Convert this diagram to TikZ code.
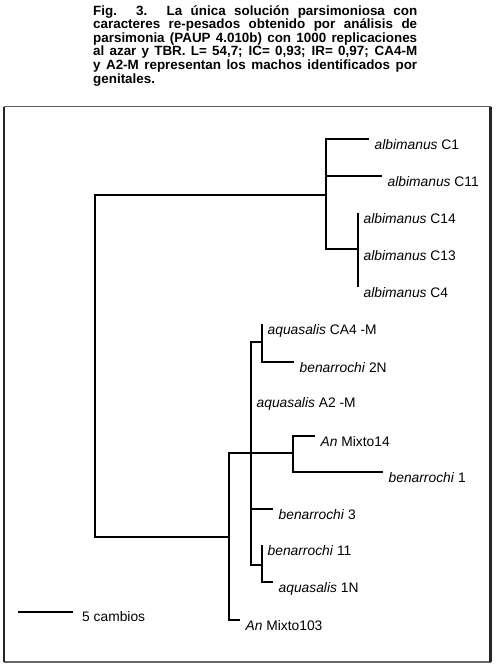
\documentclass[tikz,border=0pt]{standalone}
\usepackage{fontspec}
\setmainfont{Liberation Sans}
\begin{document}
\begin{tikzpicture}[x=1pt,y=-1pt,
  branch/.style={line width=2pt, black, line join=miter},
  leaf/.style={anchor=base west, inner sep=0pt, xshift=5.5pt, yshift=-10pt,
    font=\fontsize{13.8}{16}\selectfont},
  frameside/.style={line width=2.4pt, black!85},
  frametop/.style={line width=1.2pt, black!65},
  framebottom/.style={line width=1.8pt, black!60}]
\useasboundingbox (0,0) rectangle (496,666);

% caption
\node[anchor=north west, inner sep=0pt, text width=324pt, align=justify,
  font=\bfseries\fontsize{13.4}{13.6}\selectfont] (cap) at (93,5)
  {\tolerance=10000\hyphenpenalty=10000
   Fig. 3. La única solución parsimoniosa con\linebreak
   caracteres re-pesados obtenido por análisis de\linebreak
   parsimonia (PAUP 4.010b) con 1000 replicaciones\linebreak
   al azar y TBR. L= 54,7; IC= 0,93; IR= 0,97; CA4-M\linebreak
   y A2-M representan los machos identificados por\linebreak
   genitales.};

% frame
\coordinate (tl) at (3.8,106.6);
\coordinate (tr) at (490.6,106.6);
\coordinate (bl) at (3.8,662);
\coordinate (br) at (490.6,662);
\draw[frametop] (tl) -- (tr);
\draw[framebottom] (bl) -- (br);
\draw[frameside] (tl) -- (bl);
\draw[frameside] (tr) -- (br);

% internal nodes
\coordinate (root) at (95,366);
\coordinate (A) at (326,195);
\coordinate (B) at (358,249);
\coordinate (D) at (229,537);
\coordinate (E) at (251,453);
\coordinate (F) at (262,342);
\coordinate (G) at (293,453);
\coordinate (H) at (262,565);

% tips
\coordinate (tC1) at (369,139);
\coordinate (tC11) at (382,176);
\coordinate (tC14) at (358,213);
\coordinate (tC13) at (358,250);
\coordinate (tC4) at (358,287);
\coordinate (tCA4) at (262,324);
\coordinate (t2N) at (294,362);
\coordinate (tA2) at (251,397);
\coordinate (tM14) at (315,436);
\coordinate (tb1) at (383,472);
\coordinate (tb3) at (273,509);
\coordinate (tb11) at (262,545);
\coordinate (t1N) at (273,582);
\coordinate (tM103) at (240,620);

% branches
\draw[branch] (root) |- (A);
\draw[branch] (root) |- (D);
\draw[branch] (A) |- (tC1);
\draw[branch] (A) |- (tC11);
\draw[branch] (A) |- (B);
\draw[branch] (B) |- (tC14);
\draw[branch] (B) |- (tC4);
\draw[branch] (D) |- (E);
\draw[branch] (D) |- (tM103);
\draw[branch] (E) |- (F);
\draw[branch] (E) |- (H);
\draw[branch] (E) |- (tb3);
\draw[branch] (E) -- (G);
\draw[branch] (F) |- (tCA4);
\draw[branch] (F) |- (t2N);
\draw[branch] (G) |- (tM14);
\draw[branch] (G) |- (tb1);
\draw[branch] (H) |- (tb11);
\draw[branch] (H) |- (t1N);

% labels
\node[leaf] (lC1) at (tC1) {\textit{albimanus} C1};
\node[leaf] (lC11) at (tC11) {\textit{albimanus} C11};
\node[leaf] (lC14) at (tC14) {\textit{albimanus} C14};
\node[leaf] (lC13) at (tC13) {\textit{albimanus} C13};
\node[leaf] (lC4) at (tC4) {\textit{albimanus} C4};
\node[leaf] (lCA4) at (tCA4) {\textit{aquasalis} CA4 -M};
\node[leaf] (l2N) at (t2N) {\textit{benarrochi} 2N};
\node[leaf] (lA2) at (tA2) {\textit{aquasalis} A2 -M};
\node[leaf] (lM14) at (tM14) {\textit{An} Mixto14};
\node[leaf] (lb1) at (tb1) {\textit{benarrochi} 1};
\node[leaf] (lb3) at (tb3) {\textit{benarrochi} 3};
\node[leaf] (lb11) at (tb11) {\textit{benarrochi} 11};
\node[leaf] (l1N) at (t1N) {\textit{aquasalis} 1N};
\node[leaf] (lM103) at (tM103) {\textit{An} Mixto103};

% scale bar
\coordinate (s1) at (18,611.5);
\coordinate (s2) at (73,611.5);
\draw[branch] (s1) -- (s2);
\node[leaf, xshift=3.5pt] (sl) at (s2) {5 cambios};
\end{tikzpicture}
\end{document}
